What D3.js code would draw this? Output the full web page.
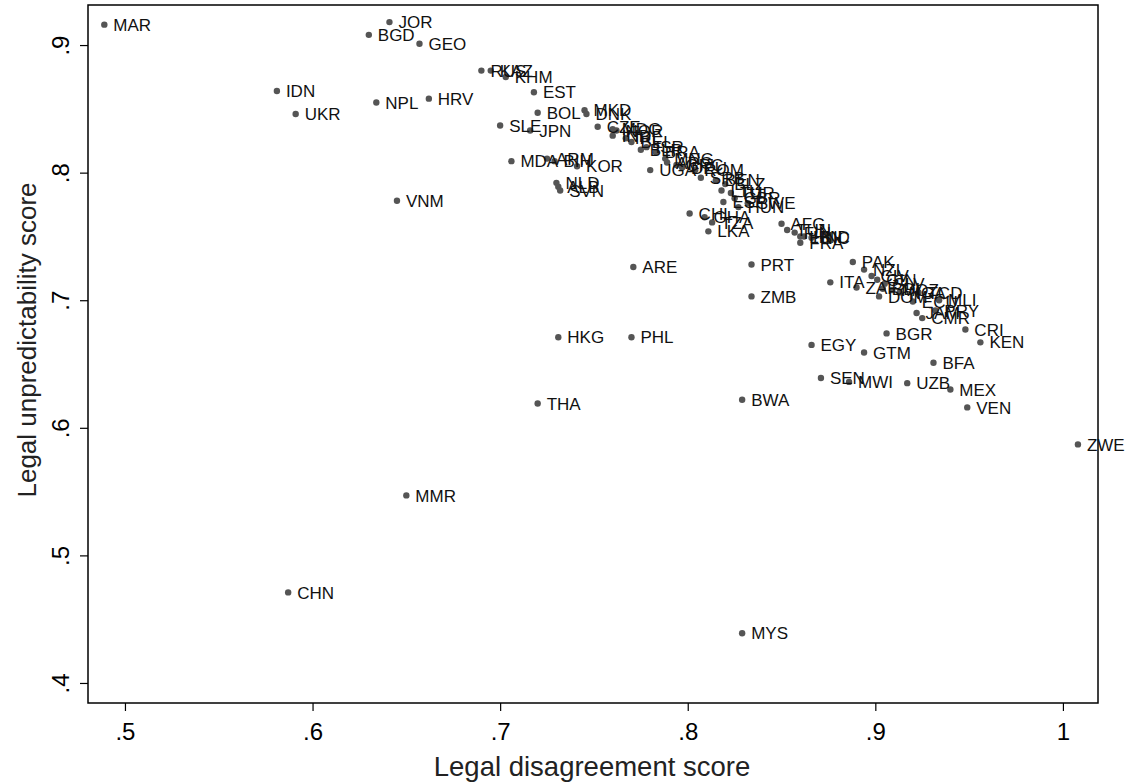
<!DOCTYPE html>
<html>
<head>
<meta charset="utf-8">
<script src="https://cdn.jsdelivr.net/npm/d3@7"></script>
<style>
  body { margin: 0; background: #fff; }
  text { font-family: "Liberation Sans", Arial, sans-serif; }
</style>
</head>
<body>
<svg id="drawing_region"></svg>
<script>
// country codes, legal disagreement score (x) and legal unpredictability score (y)
const codes = ["MAR","JOR","BGD","GEO","RUS","KAZ","KHM","EST","IDN","UKR","NPL","HRV","BOL","SLE","JPN",
  "MKD","DNK","CZE","MDG","NOR","IND","IRL","BEL","BLR","ISR","BRA","MNG","ARG","GRC","DEU","ROM","UGA",
  "SRB","BEN","BLZ","LTU","TUR","GBR","ESP","SWE","HUN","CHL","GHA","TZA","LKA","MDA","ARM","BIH","KOR",
  "NLD","ALB","SVN","VNM","AFG","TUN","FIN","LBN","HND","NIC","FRA","ARE","PRT","ZMB","HKG","PHL","THA",
  "BWA","MMR","CHN","MYS","ZWE","EGY","GTM","BGR","BFA","SEN","MWI","UZB","MEX","VEN","CRI","KEN","PAK",
  "ITA","NZL","CIV","GIN","SLV","ZAF","BDI","MOZ","NGA","DOM","TCD","ECU","MLI","PRY","JAM","CMR"];
const disagreement = [0.489,0.641,0.630,0.657,0.690,0.695,0.703,0.718,0.581,0.591,0.634,0.662,0.720,0.700,0.716,
  0.745,0.746,0.752,0.760,0.762,0.760,0.767,0.770,0.775,0.778,0.783,0.788,0.789,0.794,0.797,0.804,0.780,
  0.807,0.815,0.820,0.818,0.823,0.825,0.819,0.832,0.827,0.801,0.809,0.813,0.811,0.706,0.725,0.729,0.741,
  0.730,0.731,0.732,0.645,0.850,0.853,0.857,0.860,0.862,0.866,0.860,0.771,0.834,0.834,0.731,0.770,0.720,
  0.829,0.650,0.587,0.829,1.008,0.866,0.894,0.906,0.931,0.871,0.886,0.917,0.940,0.949,0.948,0.956,0.888,
  0.876,0.894,0.898,0.901,0.905,0.890,0.904,0.909,0.913,0.902,0.923,0.920,0.934,0.932,0.922,0.925];
const unpredictability = [0.916,0.918,0.908,0.901,0.880,0.880,0.875,0.863,0.864,0.846,0.855,0.858,0.847,0.837,0.833,
  0.849,0.846,0.836,0.834,0.833,0.829,0.827,0.824,0.818,0.820,0.816,0.811,0.808,0.806,0.804,0.802,0.802,
  0.796,0.794,0.791,0.786,0.784,0.780,0.777,0.776,0.773,0.768,0.765,0.761,0.754,0.809,0.811,0.809,0.805,
  0.792,0.789,0.786,0.778,0.760,0.755,0.753,0.750,0.750,0.749,0.745,0.726,0.728,0.703,0.671,0.671,0.619,
  0.622,0.547,0.471,0.439,0.587,0.665,0.659,0.674,0.651,0.639,0.636,0.635,0.630,0.616,0.677,0.667,0.730,
  0.714,0.724,0.719,0.716,0.713,0.710,0.709,0.708,0.706,0.703,0.706,0.699,0.700,0.692,0.690,0.686];
const xTicks = [0.5, 0.6, 0.7, 0.8, 0.9, 1];
const yTicks = [0.4, 0.5, 0.6, 0.7, 0.8, 0.9];

const data = codes.map((c, i) => ({ code: c, x: disagreement[i], y: unpredictability[i] }));

const width = 1133, height = 784;
const margin = { top: 5, right: 35, bottom: 81, left: 88 };
const innerW = width - margin.left - margin.right;
const innerH = height - margin.top - margin.bottom;

const svg = d3.select('#drawing_region')
  .attr('width', width)
  .attr('height', height);

const chart = svg.append('g')
  .attr('transform', `translate(${margin.left}, ${margin.top})`);

const xscale = d3.scaleLinear().domain([0.4803, 1.0187]).range([0, innerW]);
const yscale = d3.scaleLinear().domain([0.3843, 0.9314]).range([innerH, 0]);

const fmt = d => d === 1 ? '1' : d3.format('.1f')(d).replace(/^0/, '');
const narrow = '"Liberation Sans Narrow", "Liberation Sans", Arial, sans-serif';

// axes
const xaxis = d3.axisBottom(xscale).tickValues(xTicks).tickFormat(fmt).tickSize(8).tickSizeOuter(0).tickPadding(12);
const yaxis = d3.axisLeft(yscale).tickValues(yTicks).tickFormat(fmt).tickSize(8).tickSizeOuter(0);

const xg = chart.append('g')
  .attr('transform', `translate(0, ${innerH})`)
  .call(xaxis);
xg.select('.domain').remove();
xg.selectAll('line').attr('stroke', '#000').attr('stroke-width', 1.2);
xg.selectAll('text').attr('font-size', 24).attr('fill', '#000').attr('font-family', narrow);

const yg = chart.append('g').call(yaxis);
yg.select('.domain').remove();
yg.selectAll('line').attr('stroke', '#000').attr('stroke-width', 1.2);
yg.selectAll('text')
  .attr('font-size', 24).attr('fill', '#000')
  .attr('font-family', narrow)
  .attr('text-anchor', 'middle')
  .attr('x', 0).attr('dy', 0)
  .attr('transform', 'translate(-19, 0) rotate(-90)');

// frame
chart.append('rect')
  .attr('x', 0).attr('y', 0)
  .attr('width', innerW).attr('height', innerH)
  .attr('fill', 'none')
  .attr('stroke', '#000')
  .attr('stroke-width', 1.5);

// points and labels
chart.selectAll('circle.pt').data(data)
  .join('circle')
  .attr('class', 'pt')
  .attr('cx', d => xscale(d.x))
  .attr('cy', d => yscale(d.y))
  .attr('r', 3.2)
  .attr('fill', '#555');

chart.selectAll('text.lbl').data(data)
  .join('text')
  .attr('class', 'lbl')
  .attr('x', d => xscale(d.x) + 9)
  .attr('y', d => yscale(d.y))
  .attr('dy', '0.36em')
  .attr('font-size', 17)
  .attr('fill', '#111')
  .text(d => d.code);

// axis titles
svg.append('text')
  .attr('x', 592)
  .attr('y', 776)
  .attr('text-anchor', 'middle')
  .attr('font-size', 27.5)
  .attr('fill', '#222')
  .text('Legal disagreement score');

svg.append('text')
  .attr('transform', 'translate(36, 340) rotate(-90)')
  .attr('text-anchor', 'middle')
  .attr('font-size', 26)
  .attr('fill', '#222')
  .text('Legal unpredictability score');
</script>
</body>
</html>
